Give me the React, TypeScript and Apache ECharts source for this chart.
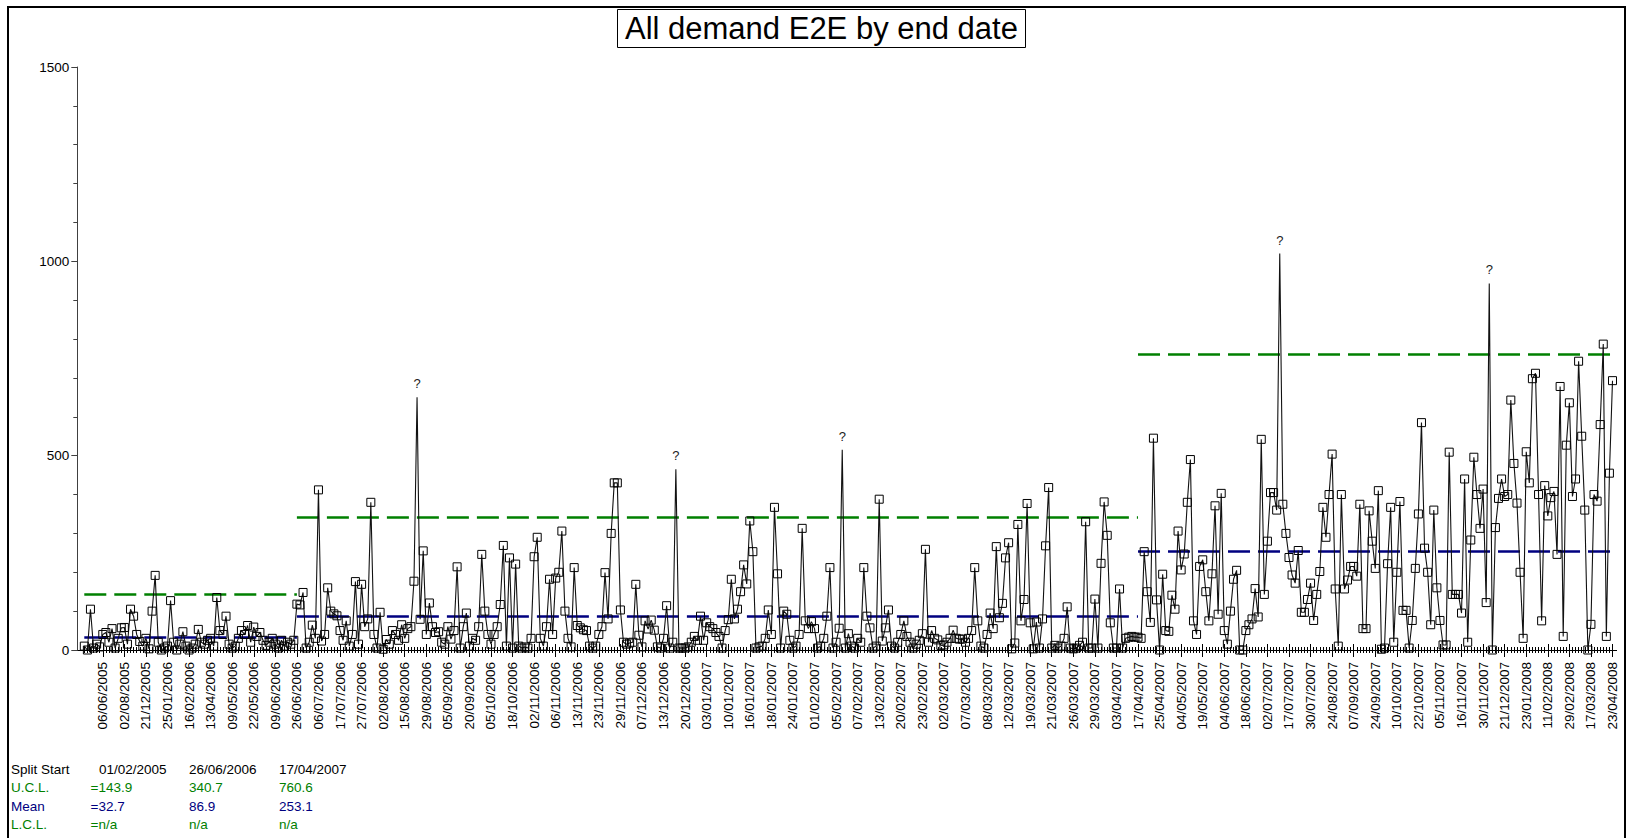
import React, { useEffect, useRef } from 'react';
import * as echarts from 'echarts';

const FONT = '"Liberation Sans", Arial, Helvetica, sans-serif';

const titleText = 'All demand E2E by end date';

// Date labels shown every 7th point along the x axis (last label = last point)
const tickLabels = [
  '06/06/2005', '02/08/2005', '21/12/2005', '25/01/2006', '16/02/2006', '13/04/2006', '09/05/2006', '22/05/2006', '09/06/2006', '26/06/2006',
  '06/07/2006', '17/07/2006', '27/07/2006', '02/08/2006', '15/08/2006', '29/08/2006', '05/09/2006', '20/09/2006', '05/10/2006', '18/10/2006',
  '02/11/2006', '06/11/2006', '13/11/2006', '23/11/2006', '29/11/2006', '07/12/2006', '13/12/2006', '20/12/2006', '03/01/2007', '10/01/2007',
  '16/01/2007', '18/01/2007', '24/01/2007', '01/02/2007', '05/02/2007', '07/02/2007', '13/02/2007', '20/02/2007', '23/02/2007', '02/03/2007',
  '07/03/2007', '08/03/2007', '12/03/2007', '19/03/2007', '21/03/2007', '26/03/2007', '29/03/2007', '03/04/2007', '17/04/2007', '25/04/2007',
  '04/05/2007', '19/05/2007', '04/06/2007', '18/06/2007', '02/07/2007', '17/07/2007', '30/07/2007', '24/08/2007', '07/09/2007', '24/09/2007',
  '10/10/2007', '22/10/2007', '05/11/2007', '16/11/2007', '30/11/2007', '21/12/2007', '23/01/2008', '11/02/2008', '29/02/2008', '17/03/2008',
  '23/04/2008',
];

// Split 1 (from 01/02/2005)
const seg1Values = [
  10, 0, 105, 5, 15, 8, 40, 45, 20, 55,
  5, 30, 57, 58, 15, 105, 87, 40, 22, 10,
  30, 3, 100, 192, 20, 0, 5, 10, 127, 20,
  0, 15, 47, 10, 0, 5, 15, 53, 20, 15,
  25, 30, 10, 135, 50, 40, 87, 15, 5, 10,
  30, 50, 40, 63, 20, 59, 35, 45, 25, 12,
  20, 30, 15, 5, 25, 10, 20, 15, 25,
];

// Split 2 (from 26/06/2006)
const seg2Values = [
  118, 116, 148, 5, 20, 64, 30, 412, 23, 40,
  160, 100, 93, 88, 50, 25, 75, 10, 40, 176,
  15, 169, 60, 80, 380, 40, 5, 97, 2, 27,
  15, 50, 40, 25, 65, 30, 55, 60, 177, 650,
  79, 255, 40, 121, 60, 45, 47, 20, 15, 60,
  28, 50, 214, 5, 60, 95, 10, 30, 25, 60,
  246, 100, 40, 15, 40, 60, 117, 269, 10, 237,
  5, 221, 10, 5, 8, 5, 30, 240, 290, 30,
  10, 60, 182, 40, 185, 200, 306, 100, 30, 8,
  212, 63, 57, 52, 50, 10, 5, 10, 40, 60,
  199, 80, 300, 430, 430, 103, 20, 15, 18, 20,
  169, 38, 8, 75, 54, 77, 51, 8, 5, 30,
  114, 5, 20, 465, 5, 5, 5, 8, 20, 35,
  25, 87, 25, 70, 60, 55, 45, 35, 5, 50,
  78, 182, 80, 105, 150, 219, 170, 332, 253, 5,
  8, 10, 30, 103, 40, 367, 196, 5, 100, 92,
  25, 5, 10, 40, 313, 75, 55, 73, 55, 5,
  10, 30, 87, 212, 5, 20, 56, 515, 5, 42,
  10, 5, 30, 20, 212, 87, 57, 5, 10, 388,
  23, 57, 103, 10, 5, 20, 40, 75, 35, 20,
  5, 15, 25, 42, 259, 20, 50, 30, 26, 12,
  13, 20, 30, 51, 30, 28, 28, 20, 30, 50,
  212, 75, 10, 5, 40, 95, 55, 266, 83, 120,
  237, 276, 3, 18, 323, 75, 130, 377, 70, 3,
  72, 5, 80, 268, 418, 5, 12, 5, 10, 30,
  111, 5, 3, 5, 12, 20, 330, 5, 5, 131,
  5, 223, 381, 295, 70, 5, 5, 157, 5, 30,
  33, 35, 33,
];

// Split 3 (from 17/04/2007)
const seg3Values = [
  33, 30, 253, 150, 71, 545, 129, 0, 195, 50,
  48, 141, 105, 306, 206, 247, 380, 490, 75, 40,
  215, 232, 150, 75, 196, 371, 92, 403, 50, 15,
  100, 182, 205, 0, 0, 50, 65, 80, 158, 85,
  542, 143, 280, 405, 405, 360, 1020, 375, 300, 238,
  193, 172, 256, 97, 97, 130, 172, 76, 143, 202,
  367, 290, 400, 504, 157, 10, 400, 157, 180, 215,
  215, 190, 375, 55, 55, 358, 280, 210, 410, 2,
  5, 222, 367, 20, 200, 382, 102, 102, 5, 76,
  210, 350, 585, 262, 200, 65, 360, 160, 76, 13,
  13, 509, 143, 143, 143, 95, 440, 20, 283, 496,
  400, 313, 414, 122, 943, 0, 315, 390, 440, 395,
  400, 643, 480, 378, 200, 30, 510, 430, 698, 712,
  400, 75, 423, 345, 392, 408, 246, 678, 35, 527,
  636, 395, 440, 743, 550, 360, 0, 66, 400, 383,
  580, 787, 35, 455, 693,
];

// Points annotated with "?" instead of a marker
const queryValues = [650, 465, 515, 1020, 943];

// Control-limit table
const splitStarts = ['01/02/2005', '26/06/2006', '17/04/2007'];
const uclValues = [143.9, 340.7, 760.6];
const meanValues = [32.7, 86.9, 253.1];
const lclValues = ['n/a', 'n/a', 'n/a'];

const GREEN = '#008000';
const NAVY = '#000080';

export default function App() {
  const ref = useRef<HTMLDivElement>(null);

  useEffect(() => {
    if (!ref.current) return;
    const chart = echarts.init(ref.current, undefined, { renderer: 'svg' });

    const values = [...seg1Values, ...seg2Values, ...seg3Values];
    const N = values.length;
    const lastIdx = N - 1;
    const nLab = tickLabels.length;
    const isLabelIdx = (i: number) => {
      const d = lastIdx - i;
      return d >= 0 && d % 7 === 0 && d / 7 < nLab;
    };
    const categories = values.map((_, i) => {
      if (isLabelIdx(i)) return tickLabels[nLab - 1 - (lastIdx - i) / 7];
      return '#' + i;
    });

    const bounds = [0, seg1Values.length, seg1Values.length + seg2Values.length, lastIdx];

    const seriesData = values.map((v) =>
      queryValues.includes(v)
        ? {
            value: v,
            itemStyle: { color: 'rgba(0,0,0,0)', borderColor: 'rgba(0,0,0,0)', borderWidth: 0 },
            label: {
              show: true,
              formatter: '?',
              position: 'top',
              distance: 3,
              color: '#222',
              fontSize: 13,
              fontFamily: FONT,
            },
          }
        : v
    );

    const dash = [22, 8];
    const markLineData: any[] = [];
    for (let s = 0; s < 3; s++) {
      markLineData.push([
        { coord: [bounds[s], uclValues[s]], lineStyle: { color: GREEN, width: 2.5, type: dash } },
        { coord: [bounds[s + 1], uclValues[s]] },
      ]);
      markLineData.push([
        { coord: [bounds[s], meanValues[s]], lineStyle: { color: NAVY, width: 2.5, type: dash } },
        { coord: [bounds[s + 1], meanValues[s]] },
      ]);
    }

    const axisColor = '#000';
    const baseX = {
      type: 'category',
      data: categories,
      boundaryGap: false,
      position: 'bottom',
      axisLine: { show: false, onZero: false },
      splitLine: { show: false },
      axisLabel: { show: false },
    };

    const tableTexts: any[] = [];
    const rowY = [769, 787.5, 806, 824.5];
    const colX = [189, 279];
    const addText = (x: number, y: number, text: string, color: string) =>
      tableTexts.push({
        type: 'text',
        x,
        y,
        silent: true,
        style: { text, fill: color, font: `13.5px ${FONT}`, textVerticalAlign: 'middle', verticalAlign: 'middle' },
      });
    addText(11, rowY[0], 'Split Start', '#000');
    addText(11, rowY[1], 'U.C.L.', GREEN);
    addText(11, rowY[2], 'Mean', NAVY);
    addText(11, rowY[3], 'L.C.L.', GREEN);
    for (let s = 0; s < 3; s++) {
      const hx = s === 0 ? 99 : colX[s - 1];
      const vx = s === 0 ? 90.5 : colX[s - 1];
      const pre = s === 0 ? '=' : '';
      addText(hx, rowY[0], splitStarts[s], '#000');
      addText(vx, rowY[1], pre + uclValues[s].toFixed(1), GREEN);
      addText(vx, rowY[2], pre + meanValues[s].toFixed(1), NAVY);
      addText(vx, rowY[3], pre + lclValues[s], GREEN);
    }

    chart.setOption({
      animation: false,
      textStyle: { fontFamily: FONT },
      title: {
        text: titleText,
        left: 617,
        top: 9,
        borderColor: '#000',
        borderWidth: 1,
        backgroundColor: '#fff',
        padding: [2, 8, 2, 8],
        textStyle: { fontSize: 31, fontWeight: 'normal', color: '#000', fontFamily: FONT, lineHeight: 35 },
      },
      grid: {
        left: 84.3,
        right: 15.5,
        top: 67,
        bottom: 188,
        containLabel: false,
        outerBoundsMode: 'none',
      },
      xAxis: [
        {
          ...baseX,
          axisLine: { show: true, onZero: false, lineStyle: { color: axisColor, width: 1 } },
          axisTick: { show: true, interval: 0, length: 3, lineStyle: { color: axisColor } },
        },
        {
          ...baseX,
          axisTick: { show: true, inside: true, interval: 0, length: 3, lineStyle: { color: axisColor } },
        },
        {
          ...baseX,
          axisTick: { show: true, interval: (i: number) => isLabelIdx(i), length: 7, lineStyle: { color: axisColor } },
          axisLabel: {
            show: true,
            interval: (i: number) => isLabelIdx(i),
            rotate: 90,
            margin: 12,
            fontSize: 13.5,
            color: '#000',
            fontFamily: FONT,
            hideOverlap: false,
            formatter: (v: string) => (v.startsWith('#') ? '' : v),
          },
        },
        {
          ...baseX,
          axisTick: { show: true, inside: true, interval: (i: number) => isLabelIdx(i), length: 6, lineStyle: { color: axisColor } },
        },
      ],
      yAxis: [
        {
          type: 'value',
          position: 'left',
          min: 0,
          max: 1500,
          interval: 100,
          offset: 7,
          axisLine: { show: true, lineStyle: { color: '#404040' } },
          axisTick: { show: true, length: 4, lineStyle: { color: '#404040' } },
          splitLine: { show: false },
          axisLabel: {
            margin: 8,
            fontSize: 13.5,
            color: '#000',
            fontFamily: FONT,
            formatter: (v: number) => (v % 500 === 0 ? String(v) : ''),
          },
        },
        {
          type: 'value',
          position: 'left',
          min: 0,
          max: 1500,
          interval: 500,
          offset: 7,
          axisLine: { show: false },
          axisTick: { show: true, length: 6, lineStyle: { color: '#404040' } },
          splitLine: { show: false },
          axisLabel: { show: false },
        },
      ],
      series: [
        {
          type: 'line',
          xAxisIndex: 0,
          yAxisIndex: 0,
          data: seriesData,
          symbol: 'rect',
          symbolSize: 8,
          showAllSymbol: true,
          itemStyle: { color: 'rgba(0,0,0,0)', borderColor: '#000', borderWidth: 1 },
          lineStyle: { color: '#111', width: 1.1 },
          emphasis: { disabled: true },
          silent: true,
          z: 3,
          markLine: {
            silent: true,
            symbol: ['none', 'none'],
            label: { show: false },
            emphasis: { disabled: true },
            z: 2,
            data: markLineData,
          },
        },
      ],
      graphic: [
        {
          type: 'rect',
          silent: true,
          z: -10,
          shape: { x: 8, y: 7, width: 1617, height: 860 },
          style: { fill: 'none', stroke: '#000', lineWidth: 2 },
        },
        {
          type: 'line',
          silent: true,
          shape: { x1: 77, y1: 650.5, x2: 85, y2: 650.5 },
          style: { stroke: '#000', lineWidth: 1 },
        },
        {
          type: 'line',
          silent: true,
          shape: { x1: 1612, y1: 650.5, x2: 1617, y2: 650.5 },
          style: { stroke: '#000', lineWidth: 1 },
        },
        ...tableTexts,
      ],
    });

    return () => chart.dispose();
  }, []);

  return (
    <div
      ref={ref}
      style={{ position: 'fixed', left: 0, top: 0, width: 1628, height: 838, background: '#fff' }}
    />
  );
}
